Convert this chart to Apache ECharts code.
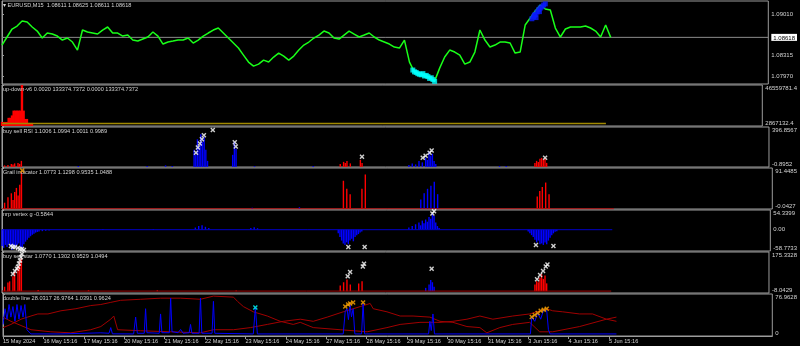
<!DOCTYPE html>
<html><head><meta charset="utf-8">
<script src="https://cdn.jsdelivr.net/npm/echarts@6/dist/echarts.min.js"></script>
<style>html,body{margin:0;padding:0;background:#000}#c{width:800px;height:346px}</style>
</head><body><div id="c"></div><script>
// ---------------- DATA ----------------
const STEP_HOURS = 3; // price sampled every 3 trading hours from 15 May 15:16
const dayLabels = ['15 May 2024','16 May 15:16','17 May 15:16','20 May 15:16','21 May 15:16','22 May 15:16','23 May 15:16','24 May 15:16','27 May 15:16','28 May 15:16','29 May 15:16','30 May 15:16','31 May 15:16','3 Jun 15:16','4 Jun 15:16','5 Jun 15:16'];

const priceValues = [1.08489,1.08624,1.08758,1.08808,1.08892,1.08876,1.08792,1.08724,1.08607,1.08691,
1.08674,1.08640,1.08573,1.08607,1.08540,1.08405,1.08741,1.08708,1.08691,1.08674,
1.08741,1.08792,1.08691,1.08691,1.08640,1.08657,1.08573,1.08556,1.08590,1.08624,
1.08708,1.08640,1.08506,1.08540,1.08556,1.08573,1.08573,1.08607,1.08523,1.08573,
1.08640,1.08691,1.08741,1.08775,1.08691,1.08607,1.08523,1.08439,1.08321,1.08204,
1.08136,1.08170,1.08237,1.08204,1.08288,1.08355,1.08304,1.08237,1.08304,1.08405,
1.08489,1.08540,1.08607,1.08657,1.08724,1.08691,1.08607,1.08590,1.08657,1.08724,
1.08674,1.08624,1.08657,1.08691,1.08624,1.08573,1.08540,1.08506,1.08456,1.08439,
1.08573,1.08204,1.08035,1.08002,1.07968,1.07934,1.07884,1.08102,1.08288,1.08405,
1.08372,1.08321,1.08170,1.08204,1.08372,1.08741,1.08573,1.08456,1.08489,1.08540,
1.08540,1.08523,1.08355,1.08372,1.08825,1.08943,1.09060,1.09161,1.09094,1.09077,
1.08775,1.08624,1.08758,1.08792,1.08792,1.08792,1.08808,1.08775,1.08724,1.08624,
1.08825,1.08618];
const priceTicks = [1.07970, 1.08315, 1.09010];
const currentPrice = 1.08618;
const priceCyanMarks = [[245,1.08070],[246,1.08040],[247,1.08030],[248,1.08010],[249,1.08000],[250,1.07990],[251,1.08010],[252,1.07970],[253,1.07980],[254,1.07960],[255,1.07930],[256,1.07940],[257,1.07910],[258,1.07880]];
const priceBlueMarks = [[316,1.08930],[317,1.08960],[317.5,1.08990],[318,1.09000],[318.5,1.08950],[319,1.09040],[320,1.09080],[320.5,1.09050],[321,1.09110],[322,1.09130],[323,1.09160],[324,1.09180]];

const updownRange = [0, 46559781.4];
const updownLevel = 2867132.4;
const updownBars = [[0,4600000],[1,4600000],[2,4600000],[3,4600000],[4,9300000],[5,9300000],[6,12000000],[7,17500000],[8,17500000],[9,17500000],[10,17500000],[11,17500000],[12,46500000],[13,17500000],[14,8000000],[15,8000000],[16,3500000],[17,3500000],[18,3500000]];

const rsiRange = [-0.8952, 396.8567];
const rsiRed = [[2,15],[4,20],[6,30],[7,25],[8,35],[10,40],[11,30],[12,60],[202,30],[204,50],[205,40],[206,60],[208,35],[214,70],[215,40],[318,40],[319,60],[320,50],[321,80],[322,90],[323,70],[324,85],[325,40]];
const rsiBlue = [[45,10],[86,8],[97,15],[101,10],[114,170],[115,120],[116,275],[117,200],[118,325],[119,250],[120,295],[121,170],[122,60],[137,120],[138,250],[139,180],[150,8],[185,10],[242,20],[244,35],[246,25],[248,60],[250,45],[252,90],[253,70],[254,150],[255,110],[256,130],[257,60],[258,30],[296,10],[300,8]];
const rsiMarks = [[115.6,142],[116.7,193],[117.9,234],[119.1,274],[120.3,315],[125.6,366],[138.7,244],[139.3,203],[214.5,101],[250.7,91],[252.4,111],[254.8,142],[256,162],[323.6,91]];

const grailRange = [-0.0427, 91.4485];
const grailRed = [[2,14],[4,26],[6,35],[7,20],[8,38],[9,47],[10,30],[11,54],[12,82],[203,63],[205,45],[207,33],[214,45],[216,77],[318,28],[319.5,40],[321,49],[323,59],[325,33]];
const grailBlue = [[148,3],[176,4],[248,21],[250,35],[252,45],[254,52],[256,61],[258,33]];
const grailMarks = [[12,86]];

const nrpRange = [-58.7733, 54.3399];
const nrpBars = [[0,-45],[1,-50],[2,-42],[3,-48],[4,-40],[5,-45],[6,-56],[7,-44],[8,-50],[9,-42],[10,-38],[11,-48],[12,-50],[13,-40],[14,-33],[15,-28],[16,-22],[17,-18],[18,-14],[19,-11],[20,-8],[21,-6],[22,-5],[24,-4],[26,-3],[28,-2],
[60,2],[90,2],[115,6],[117,10],[119,12],[121,8],[123,5],[148,5],[150,7],[152,4],
[200,-10],[201,-20],[202,-30],[203,-38],[204,-42],[205,-35],[206,-40],[207,-30],[208,-25],[209,-32],[210,-20],[211,-15],[212,-12],[213,-8],[214,-5],
[242,6],[244,10],[246,15],[248,20],[249,12],[250,25],[251,18],[252,28],[253,22],[254,35],[255,30],[256,45],[257,38],[258,20],[259,10],[260,5],
[313,-5],[314,-10],[315,-15],[316,-20],[317,-28],[318,-35],[319,-30],[320,-40],[321,-38],[322,-42],[323,-35],[324,-40],[325,-30],[326,-22],[327,-15],[328,-10],[329,-6],[330,-4]];
const nrpMarks = [[5.3,-44.7],[6.5,-47.5],[7.7,-47.5],[9.5,-50.4],[10.7,-53],[11.9,-53],[13,-56],[206,-47.5],[215.7,-47.5],[256,45],[257,51],[317.6,-42],[328,-44.7]];

const starRange = [-8.0429, 175.3328];
const starRed = [[2,20],[4,39],[5,44],[7,67],[8,86],[10,110],[11,133],[12,147],[22,5],[52,4],[93,4],[140,3],[202,25],[204,40],[206,52],[208,30],[213,35],[215,44],[318,30],[319,45],[320,40],[321,60],[322,76],[323,55],[324,70],[325,35]];
const starBlue = [[252,15],[254,30],[255,50],[256,40],[257,20]];
const starMarks = [[11.9,165.9],[11.3,151.8],[10.7,137.7],[10.1,123.6],[9.5,109.5],[8.9,100],[7.7,90.7],[6.5,76.6],[206,67],[207.4,86],[215,110],[215.7,123],[256,100],[318.8,53],[320.6,72],[322.4,90],[324,110],[325,119]];

const dlRange = [0, 76.9628];
const dlLineA = [[0,15.4],[4.7,21.2],[10.7,30.8],[16.6,36.6],[20.7,40.4],[26.7,40.4],[34.4,46.2],[43.3,50],[52.1,55.8],[58.1,57.7],[64,61.6],[69.9,65.4],[81.8,67.3],[93.6,69.3],[105.5,69.3],[117.3,67.3],[125,73.1],[136.9,71.2],[139.3,63.5],[142.8,53.9],[148.7,44.3],[157,36.6],[164.7,26.9],[172.4,21.2],[176.6,25],[184.3,15.4],[200.3,11.5],[216.3,7.7],[228.1,15.4],[235.9,21.2],[247.7,25],[259.6,25],[267.3,26.9],[275.6,30.8],[283.3,36.6],[291,30.8],[302.8,36.6],[312.9,40.4],[323,50],[326.5,46.2],[332.5,44.3],[342.5,40.4],[350.2,40.4],[358.5,30.8],[364.4,26.9]];
const dlLineB = [[0,34.6],[4.7,26.9],[10.7,19.2],[16.6,11.5],[28.4,7.7],[40.3,5.8],[52.1,11.5],[58.1,17.3],[64,30.8],[65.8,36.6],[68.1,11.5],[81.8,9.6],[99.6,7.7],[117.3,5.8],[125,11.5],[136.9,11.5],[147,15.4],[157,21.2],[166.5,26.9],[176.6,30.8],[184.3,26.9],[192.6,34.6],[202.1,44.3],[212.2,53.9],[218.1,59.6],[219.9,50],[228.1,44.3],[235.9,36.6],[243.6,36.6],[253.6,34.6],[259.6,26.9],[267.3,25],[275.6,17.3],[283.3,15.4],[287.4,5.8],[295.1,15.4],[302.8,21.2],[312.9,25],[318.8,7.7],[326.5,7.7],[342.5,17.3],[358.5,30.8],[364.4,34.6]];
const dlBlue = [[0,21.2],[1.2,50],[2.4,30.8],[3.6,57.7],[4.7,34.6],[5.9,53.9],[7.1,26.9],[8.3,57.7],[9.5,30.8],[10.7,55.8],[11.9,34.6],[13,57.7],[14.2,11.5],[16.6,3.8],[34.4,3.8],[58.1,5.8],[63,5],[64,15.4],[65,4],[77.6,3.8],[78.8,34.6],[79.8,5],[83.9,5],[84.7,50],[85.5,6],[92.8,5],[93.6,40.4],[94.4,6],[98.8,6],[99.6,69.3],[100.4,8],[104,6],[105.5,12],[107,5],[110.6,6],[111.4,21.2],[112.2,5],[116.5,5],[117.3,69.3],[118.1,5],[124.2,5],[125,63.5],[125.8,5],[148.7,3.8],[149.9,51.9],[151.1,3.8],[202.1,3.8],[203.3,45],[204.4,50],[205.2,30],[206.2,57.7],[207,35],[208,50],[209,3.8],[213,3.8],[213.9,59.6],[214.8,3.8],[252.8,3.8],[253.6,26.9],[254.4,10],[255.4,40.4],[256.3,3.8],[313.3,3.8],[314.1,34.6],[315.9,26.9],[317.6,42.3],[319.4,30.8],[321.2,48.1],[323,46.2],[324,11.5],[325,3.8],[364.4,3.8]];
const dlCyanMarks = [[149.9,52]];
const dlOrangeMarks = [[203.3,53.9],[205,57.7],[206.2,59.6],[208,61.6],[213.9,61.6],[314.1,34.6],[315.9,38.5],[317.6,42.3],[319.4,46.2],[321.2,48.1],[323,50]];

const paneTitles = ['\u25BE EURUSD,M15  1.08611 1.08625 1.08611 1.08618','up-down-v6 0.0020 133374.7372 0.0000 133374.7372','buy sell RSI 1.1006 1.0994 1.0011 0.9989','Grail indicator 1.0773 1.1298 0.9535 1.0488','nrp vertex g -0.5844','buy sell star 1.0770 1.1302 0.9529 1.0494','double line 28.0317 26.9764 1.0391 0.9624'];

// ---------------- LAYOUT ----------------
const FONT = 'Liberation Sans, Arial, sans-serif';
const TXT = '#d4d4d4';
const FRAME = '#9c9c9c';
const X_MAX = 457;
const panes = [[1,83],[85,41],[127,40],[168,41],[210,41],[252,41],[294,42]];
const XSHAPE = 'path://M0,2L2,0L5,3L8,0L10,2L7,5L10,8L8,10L5,7L2,10L0,8L3,5Z';
const dataEnd = (priceValues.length - 1) * STEP_HOURS;

function yAxis(i, min, max, vals, texts, special) {
  return {
    gridIndex: i, type: 'value', position: 'right', min: min, max: max,
    axisLine: {show: true, lineStyle: {color: FRAME}},
    axisTick: {show: true, length: 2, customValues: vals, lineStyle: {color: FRAME}},
    splitLine: {show: false},
    axisLabel: {
      customValues: vals, color: TXT, fontSize: 6, fontFamily: FONT, margin: 3,
      verticalAlignMaxLabel: i === 0 ? 'middle' : 'top',
      verticalAlignMinLabel: i === 0 ? 'middle' : 'bottom',
      rich: {cur: {backgroundColor: '#ffffff', color: '#000000', fontSize: 6, fontFamily: FONT, padding: [1, 2, 0, 2]}},
      formatter: function (v) {
        const span = Math.abs(max - min) || 1;
        for (let k = 0; k < vals.length; k++) if (Math.abs(vals[k] - v) < span * 1e-6) return (special === k ? '{cur|' + texts[k] + '}' : texts[k]);
        return '';
      }
    }
  };
}

const xAxes = panes.map((p, i) => {
  const last = i === panes.length - 1;
  return {
    gridIndex: i, type: 'value', min: 0, max: X_MAX, show: last,
    axisLine: {show: last, lineStyle: {color: FRAME}},
    axisTick: {show: last, length: 3, customValues: dayLabels.map((d, k) => k * 24), lineStyle: {color: FRAME}},
    axisLabel: {show: last, customValues: dayLabels.map((d, k) => k * 24), align: 'left', color: TXT, fontSize: 5.6, fontFamily: FONT, margin: 2,
      formatter: v => dayLabels[Math.round(v / 24)] || ''},
    splitLine: {show: false}
  };
});

const priceLabelVals = [priceTicks[0], priceTicks[1], currentPrice, priceTicks[2]];
const yAxes = [
  yAxis(0, 1.07836, 1.09228, priceLabelVals, priceLabelVals.map(v => v.toFixed(5)), 2),
  yAxis(1, updownRange[0], updownRange[1], [updownRange[0], updownRange[1]], ['2867132.4', '46559781.4']),
  yAxis(2, rsiRange[0], rsiRange[1], rsiRange, ['-0.8952', '396.8567']),
  yAxis(3, grailRange[0], grailRange[1], grailRange, ['-0.0427', '91.4485']),
  yAxis(4, nrpRange[0], nrpRange[1], [nrpRange[0], 0, nrpRange[1]], ['-58.7733', '0.00', '54.3399']),
  yAxis(5, starRange[0], starRange[1], starRange, ['-8.0429', '175.3328']),
  yAxis(6, dlRange[0], dlRange[1], dlRange, ['0', '76.9628'])
];

function bars(i, data, color, w) {
  return {type: 'bar', xAxisIndex: i, yAxisIndex: i, data: data, barWidth: w || 1.4, itemStyle: {color: color}, silent: true, z: 3, animation: false};
}
function marks(i, data, color, size, sym) {
  return {type: 'scatter', xAxisIndex: i, yAxisIndex: i, data: data, symbol: sym || XSHAPE, symbolSize: size || 5, itemStyle: {color: color}, z: 6, silent: true, animation: false};
}
function line(i, data, color, w, z) {
  return {type: 'line', xAxisIndex: i, yAxisIndex: i, data: data, showSymbol: false, lineStyle: {color: color, width: w || 1}, itemStyle: {color: color}, z: z || 4, silent: true, animation: false};
}

const series = [
  line(0, [[0, currentPrice], [X_MAX, currentPrice]], '#8c8c8c', 1, 2),
  line(0, priceValues.map((v, k) => [k * STEP_HOURS, v]), '#19ff19', 1.5),
  marks(0, priceCyanMarks, '#00ffff', 5, 'rect'),
  marks(0, priceBlueMarks, '#0a1aff', 5, 'rect'),
  line(1, [[0, updownLevel], [dataEnd, updownLevel]], '#a08800', 1.5),
  bars(1, updownBars, '#ff0000', 2.4),
  bars(2, rsiRed, '#ff0000'), bars(2, rsiBlue, '#0000ff'), marks(2, rsiMarks, '#ffffff', 5),
  line(3, [[0, 0.3], [dataEnd, 0.3]], '#c00000', 1),
  bars(3, grailRed, '#ff0000'), bars(3, grailBlue, '#0000ff'), marks(3, grailMarks, '#ffa500', 5),
  line(4, [[0, 0], [dataEnd, 0]], '#0000c8', 1),
  bars(4, nrpBars, '#0000ff'), marks(4, nrpMarks, '#ffffff', 5),
  line(5, [[0, 0.5], [dataEnd, 0.5]], '#a00000', 1),
  bars(5, starRed, '#ff0000'), bars(5, starBlue, '#0000ff'), marks(5, starMarks, '#ffffff', 5),
  line(6, dlLineA, '#a00000', 1), line(6, dlLineB, '#a00000', 1), line(6, dlBlue, '#0000ff', 1),
  marks(6, dlCyanMarks, '#00ffff', 5), marks(6, dlOrangeMarks, '#ffa500', 5)
];

const option = {
  backgroundColor: '#000',
  animation: false,
  title: paneTitles.map((t, i) => ({text: t, left: 3, top: panes[i][0] + 1, padding: 0,
    textStyle: {color: TXT, fontSize: 5.6, fontWeight: 'normal', fontFamily: FONT}})),
  grid: panes.map(p => ({left: 2, width: 771, top: p[0], height: p[1], show: true, borderColor: FRAME, borderWidth: 1, backgroundColor: '#000'})),
  xAxis: xAxes,
  yAxis: yAxes,
  series: series
};
const chart = echarts.init(document.getElementById('c'));
chart.setOption(option);
</script></body></html>
